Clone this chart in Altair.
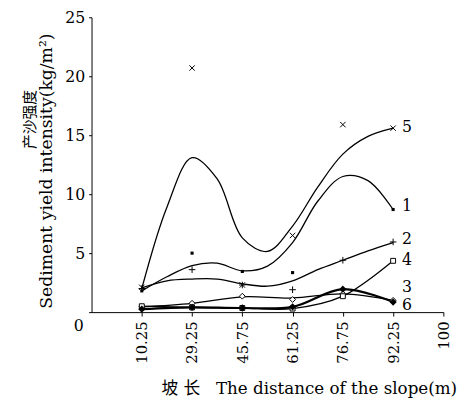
import altair as alt
import pandas as pd

# ---------------- data ----------------
distance_labels = ["10.25", "29.25", "45.75", "61.25", "76.75", "92.25", "100"]
positions = [1, 2, 3, 4, 5, 6]
fine_positions = [1, 1.5, 2, 2.5, 3, 3.5, 4, 4.5, 5, 5.5, 6]

# smoothed curves
curve1 = [1.8, 3.0, 3.95, 4.15, 3.5, 3.9, 5.9, 9.4, 11.5, 11.15, 8.7]
curve2 = [2.05, 2.65, 2.8, 2.8, 2.4, 2.2, 2.65, 3.6, 4.4, 5.2, 5.9]
curve5 = [2.0, 8.9, 13.1, 11.3, 6.3, 5.15, 7.3, 10.6, 13.4, 14.9, 15.6]
curve3 = [0.45, 0.75, 1.3, 1.2, 1.55, 1.0]
curve4 = [0.5, 0.4, 0.35, 0.3, 1.35, 4.35]
curve6 = [0.25, 0.4, 0.35, 0.45, 1.95, 0.85]

# measured points
marker1 = [1.8, 5.0, 3.45, 3.35, None, 8.7]
marker2 = [2.0, 3.6, 2.3, 1.9, 4.4, 5.95]
marker3 = [0.45, 0.75, 1.35, 1.07, 1.55, 1.0]
marker4 = [0.5, 0.4, 0.35, 0.3, 1.35, 4.35]
marker5 = [2.1, 20.7, 2.3, 6.5, 15.9, 15.6]
marker6 = [0.25, 0.4, 0.35, 0.45, 1.95, 0.85]

series_names = ["1", "2", "3", "4", "5", "6"]
label_values = [8.95, 6.2, 2.1, 4.45, 15.7, 0.6]

SERIF = "DejaVu Serif"
CJK = "DejaVu Serif, Noto Sans CJK SC"
NB = "\u00a0"

# ---------------- encodings ----------------
label_expr = "[''," + ",".join("'%s'" % s for s in distance_labels) + "][datum.value]"

x_enc = alt.X(
    "pos:Q",
    scale=alt.Scale(domain=[0, 7], nice=False, zero=False),
    axis=alt.Axis(
        values=[1, 2, 3, 4, 5, 6, 7],
        labelExpr=label_expr,
        labelAngle=270,
        labelAlign="right",
        labelBaseline="middle",
        labelPadding=5,
        labelFont=SERIF,
        labelFontSize=15,
        labelColor="black",
        tickSize=4,
        tickColor="black",
        domainColor="black",
        grid=False,
        title="坡" + NB + "长" + NB * 3 + "The distance of the slope(m)",
        titleFont=CJK,
        titleFontSize=17,
        titleFontWeight="normal",
        titleColor="black",
        titleX=221,
        titleY=78,
        titleAlign="center",
        titleBaseline="middle",
    ),
)

y_enc = alt.Y(
    "value:Q",
    scale=alt.Scale(domain=[0, 25], nice=False),
    axis=alt.Axis(
        values=[0, 5, 10, 15, 20, 25],
        labelExpr="datum.value == 0 ? '' : datum.label",
        labelFont=SERIF,
        labelFontSize=16,
        labelColor="black",
        labelPadding=4,
        tickSize=3,
        tickColor="black",
        domainColor="black",
        grid=False,
        title="Sediment yield intensity(kg/m²)",
        titleFont=SERIF,
        titleFontSize=17.5,
        titleFontWeight="normal",
        titleColor="black",
        titleAngle=270,
        titleX=-46,
        titleY=156,
        titleAlign="center",
        titleBaseline="middle",
    ),
)

layers = []

# curves
curve_sets = [
    (fine_positions, curve1, 1.3),
    (fine_positions, curve2, 1.3),
    (positions, curve3, 1.3),
    (positions, curve4, 1.3),
    (fine_positions, curve5, 1.3),
    (positions, curve6, 2.2),
]
for (xs, ys, sw) in curve_sets:
    df = pd.DataFrame({"pos": xs, "value": ys})
    layers.append(
        alt.Chart(df)
        .mark_line(interpolate="catmull-rom", color="black", strokeWidth=sw)
        .encode(x=x_enc, y=y_enc)
    )

# markers
cross_x = "M-1,-1L1,1M-1,1L1,-1"
plus = "M-1,0L1,0M0,-1L0,1"
marker_sets = [
    (marker1, dict(shape="square", filled=True, color="black", size=10)),
    (marker2, dict(shape=plus, filled=False, color="black", size=45, strokeWidth=1)),
    (marker3, dict(shape="diamond", filled=True, fill="white", stroke="black", strokeWidth=1, size=35)),
    (marker4, dict(shape="square", filled=True, fill="white", stroke="black", strokeWidth=1, size=25)),
    (marker5, dict(shape=cross_x, filled=False, color="black", size=30, strokeWidth=1)),
    (marker6, dict(shape="diamond", filled=True, color="black", size=55)),
]
for (ys, style) in marker_sets:
    df = pd.DataFrame({"pos": positions, "value": ys}).dropna()
    layers.append(alt.Chart(df).mark_point(opacity=1, **style).encode(x=x_enc, y=y_enc))

# series labels at line ends
lab_df = pd.DataFrame({"pos": [6] * 6, "value": label_values, "name": series_names})
layers.append(
    alt.Chart(lab_df)
    .mark_text(align="left", baseline="middle", dx=9, font=SERIF, fontSize=16, color="black")
    .encode(x=x_enc, y=y_enc, text="name:N")
)

# origin "0" label and Chinese y title
zero_df = pd.DataFrame({"t": ["0"]})
layers.append(
    alt.Chart(zero_df)
    .mark_text(font=SERIF, fontSize=16, color="black", baseline="middle", align="center")
    .encode(x=alt.value(-13), y=alt.value(314), text="t:N")
)
cn_df = pd.DataFrame({"t": ["产沙强度"]})
layers.append(
    alt.Chart(cn_df)
    .mark_text(font="Noto Sans CJK SC", fontSize=15, fill="black", angle=270,
               baseline="middle", align="center")
    .encode(x=alt.value(-63), y=alt.value(104), text="t:N")
)

chart = (
    alt.layer(*layers)
    .properties(
        width=358,
        height=300,
        autosize=alt.AutoSizeParams(type="none"),
        padding={"left": 85, "top": 6, "right": 22, "bottom": 88},
        background="white",
    )
    .configure_view(stroke=None)
)

chart.save("out.html", embed_options={"renderer": "svg", "actions": False})
